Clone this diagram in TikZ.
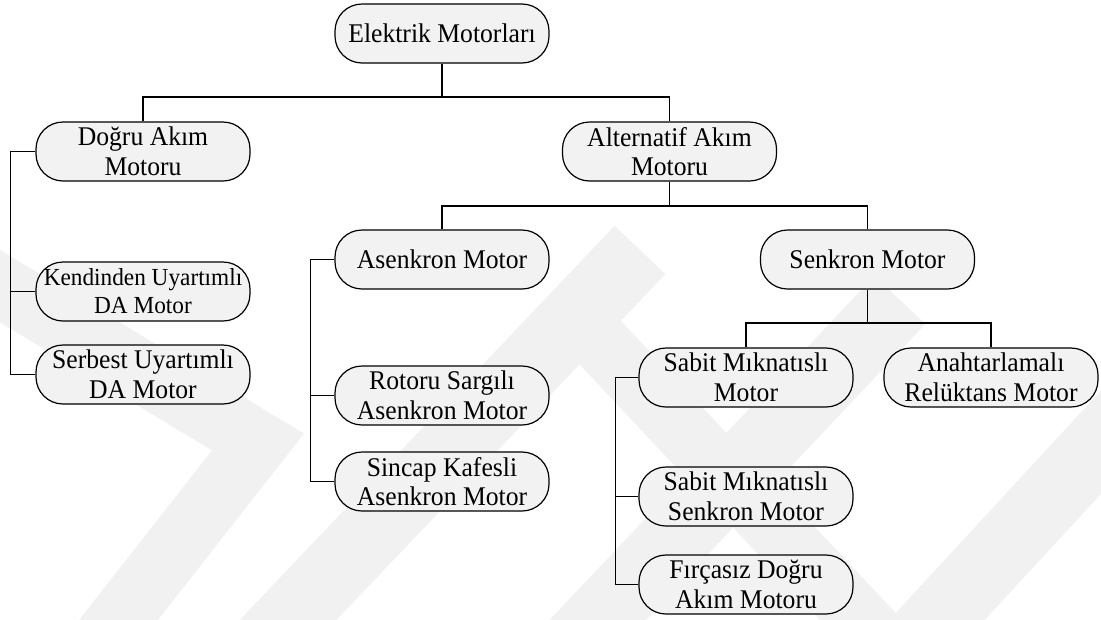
\documentclass[tikz,border=0pt]{standalone}
\usepackage{fontspec}
\setmainfont{Liberation Serif}[FakeStretch=0.95]
\definecolor{boxfill}{HTML}{F2F2F2}
\definecolor{wmgray}{HTML}{F1F1F1}
\begin{document}
\begin{tikzpicture}[x=1pt,y=-1pt,
  box/.style={draw=black, line width=1.2pt, fill=boxfill, rounded corners=27pt,
    minimum width=214pt, minimum height=59pt, inner sep=0pt, align=center,
    font=\fontsize{27}{29.5}\selectfont},
  smallbox/.style={box, font=\fontsize{24.5}{28}\selectfont},
  link/.style={draw=black, line width=1.3pt},
  wmband/.style={draw=wmgray, line join=miter, line cap=butt}]

% page and bounding box
\fill[white] (0,0) rectangle (1101,619);
\useasboundingbox (0,0) rectangle (1101,619);

% faint background stripes
\begin{scope}
  \clip (0,0) rectangle (1101,619);
  \draw[wmband, line width=62pt] (-40,262) -- (258,442) -- (95,650);
  \draw[wmband, line width=70pt] (250,660) -- (640,250);
  \draw[wmband, line width=70pt] (560,660) -- (900,300);
  \draw[wmband, line width=60pt] (560,300) -- (880,640);
  \draw[wmband, line width=70pt] (900,660) -- (1140,400);
\end{scope}

% nodes
\node[box] (em)  at (442,33.5)  {Elektrik Motorları};
\node[box] (dam) at (143,151.5) {Doğru Akım\\Motoru};
\node[box] (aam) at (669.5,151.5) {Alternatif Akım\\Motoru};
\node[box] (asm) at (442,259.5) {Asenkron Motor};
\node[box] (snm) at (867.5,259.5) {Senkron Motor};
\node[smallbox] (kua) at (143,291.5) {Kendinden Uyartımlı\\DA Motor};
\node[box] (sua) at (143,374.5) {Serbest Uyartımlı\\DA Motor};
\node[box] (rsa) at (442,395.5) {Rotoru Sargılı\\Asenkron Motor};
\node[box] (ska) at (442,481.5) {Sincap Kafesli\\Asenkron Motor};
\node[box] (smm) at (746,377.5) {Sabit Mıknatıslı\\Motor};
\node[box] (arm) at (991,377.5) {Anahtarlamalı\\Relüktans Motor};
\node[box] (sms) at (746,496.5) {Sabit Mıknatıslı\\Senkron Motor};
\node[box] (fda) at (746,584.5) {Fırçasız Doğru\\Akım Motoru};

% tree junctions
\coordinate (j1) at (442,97);
\coordinate (j2) at (669.5,206);
\coordinate (j3) at (867.5,323);

% connectors
\draw[link] (em.south) -- (j1);
\draw[link] (dam.north) |- (j1) -| (aam.north);
\draw[link] (aam.south) -- (j2);
\draw[link] (asm.north) |- (j2) -| (snm.north);
\draw[link] (snm.south) -- (j3);
\draw[link] (smm.north) |- (j3) -| (arm.north);

% side brackets
\draw[link] (dam.west) -- ++(-25,0) |- (sua.west);
\draw[link] (kua.west) -- ++(-25,0);
\draw[link] (asm.west) -- ++(-24,0) |- (ska.west);
\draw[link] (rsa.west) -- ++(-24,0);
\draw[link] (smm.west) -- ++(-23,0) |- (fda.west);
\draw[link] (sms.west) -- ++(-23,0);
\end{tikzpicture}
\end{document}
